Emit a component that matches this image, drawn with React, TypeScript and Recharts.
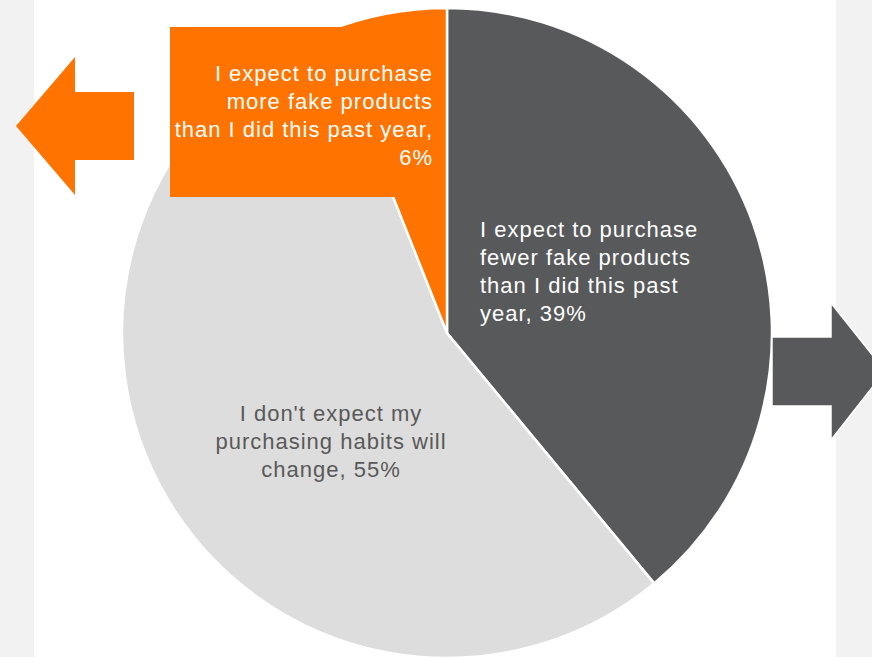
import React from "react"
import { PieChart, Pie, Cell } from "recharts"

// share of respondents, clockwise from 12 o'clock
const categories = ["Fewer fake products", "No change", "More fake products"]
const shares = [39, 55, 6]
const labelLines = [
  ["I expect to purchase", "fewer fake products", "than I did this past", "year, 39%"],
  ["I don't expect my", "purchasing habits will", "change, 55%"],
  ["I expect to purchase", "more fake products", "than I did this past year,", "6%"],
]

const colors = ["#58595B", "#DCDDDC", "#FF7300"]
const FONT = "'Liberation Sans', Arial, sans-serif"

const data = categories.map((name, i) => ({ name, value: shares[i] }))

const renderLabel = (props: any) => {
  const { cx, cy, index } = props
  const lines = labelLines[index]
  const textStyle = { fontFamily: FONT, fontSize: 22, letterSpacing: 1 }

  if (index === 0) {
    return (
      <text x={cx + 33} y={cy - 96} fill="#ffffff" textAnchor="start" style={textStyle}>
        {lines.map((l, i) => (
          <tspan key={i} x={cx + 33} dy={i === 0 ? 0 : 28}>
            {l}
          </tspan>
        ))}
      </text>
    )
  }
  if (index === 1) {
    return (
      <text x={cx - 116} y={cy + 88} fill="#595959" textAnchor="middle" style={textStyle}>
        {lines.map((l, i) => (
          <tspan key={i} x={cx - 116} dy={i === 0 ? 0 : 28}>
            {l}
          </tspan>
        ))}
      </text>
    )
  }
  // the small slice gets a filled call-out box
  return (
    <g>
      <rect x={cx - 277} y={cy - 306} width={275} height={170} fill={colors[2]} />
      <text x={cx - 14} y={cy - 252} fill="#ffffff" textAnchor="end" style={textStyle}>
        {lines.map((l, i) => (
          <tspan key={i} x={cx - 14} dy={i === 0 ? 0 : 28}>
            {l}
          </tspan>
        ))}
      </text>
    </g>
  )
}

export default function App() {
  return (
    <div
      style={{
        position: "absolute",
        left: 0,
        top: 0,
        width: 872,
        height: 657,
        background: "#F2F2F2",
        overflow: "hidden",
      }}
    >
      <div style={{ position: "absolute", left: 34, top: 0, width: 802, height: 657, background: "#ffffff" }} />
      <div style={{ position: "absolute", left: 0, top: 0 }}>
        <PieChart width={872} height={657} margin={{ top: 0, right: 0, bottom: 0, left: 0 }}>
          <Pie
            data={data}
            dataKey="value"
            nameKey="name"
            cx={447}
            cy={333}
            outerRadius={325}
            startAngle={90}
            endAngle={-270}
            stroke="#ffffff"
            strokeWidth={2.5}
            label={renderLabel}
            labelLine={false}
            isAnimationActive={false}
          >
            {data.map((entry, index) => (
              <Cell key={`cell-${index}`} fill={colors[index]} />
            ))}
          </Pie>
        </PieChart>
      </div>
      <svg width={872} height={657} style={{ position: "absolute", left: 0, top: 0, pointerEvents: "none" }}>
        {/* left orange arrow */}
        <polygon points="16,126 75,57 75,92 134,92 134,160 75,160 75,195" fill={colors[2]} />
        {/* right grey arrow */}
        <polygon
          points="772,337 831,337 831,303 885,371 831,440 831,406 772,406"
          fill={colors[0]}
          stroke="#ffffff"
          strokeWidth={1.5}
        />
      </svg>
    </div>
  )
}
